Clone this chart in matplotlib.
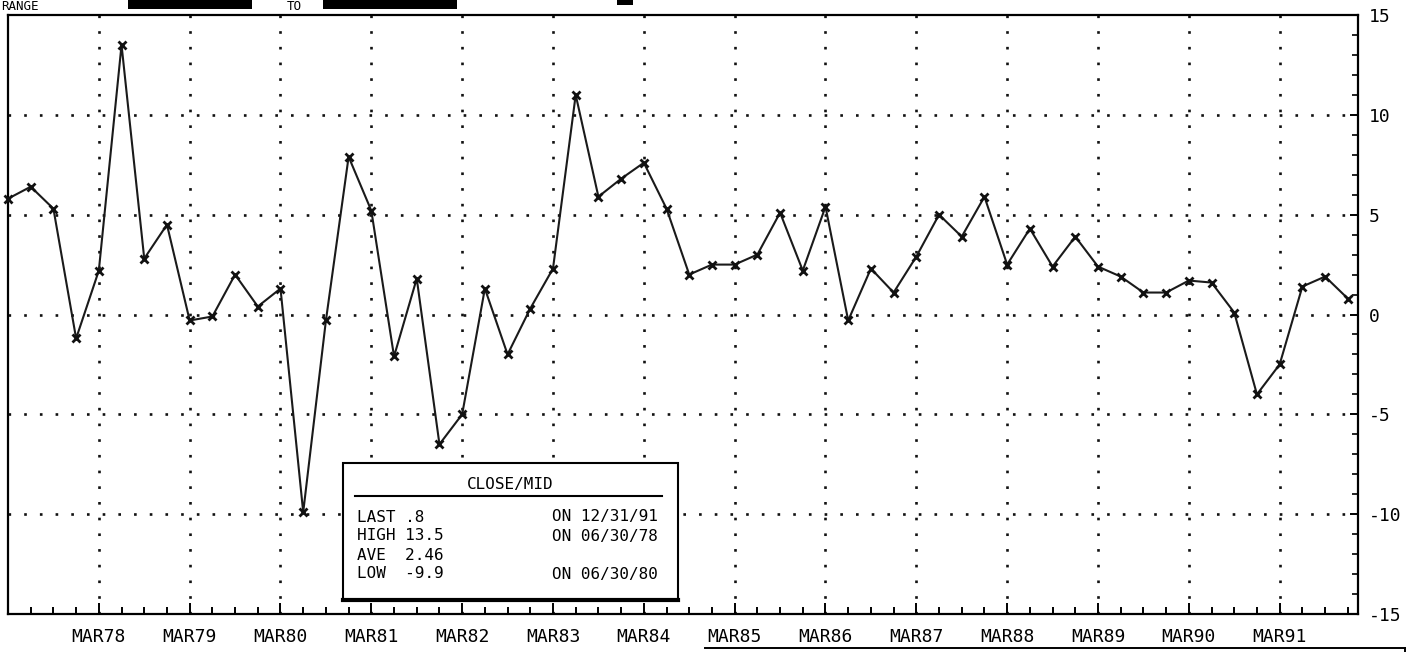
import matplotlib
matplotlib.use("Agg")
import matplotlib.pyplot as plt
from matplotlib.patches import Rectangle
from matplotlib.lines import Line2D

# ---------------- data ----------------
years = list(range(1977, 1992))
quarter_months = ["MAR", "JUN", "SEP", "DEC"]
quarters = [f"{m}{str(y)[2:]}" for y in years for m in quarter_months]

values = [5.8, 6.4, 5.3, -1.2,
          2.2, 13.5, 2.8, 4.5,
          -0.3, -0.1, 2.0, 0.4,
          1.3, -9.9, -0.3, 7.9,
          5.2, -2.1, 1.8, -6.5,
          -5.0, 1.3, -2.0, 0.3,
          2.3, 11.0, 5.9, 6.8,
          7.6, 5.3, 2.0, 2.5,
          2.5, 3.0, 5.1, 2.2,
          5.4, -0.3, 2.3, 1.1,
          2.9, 5.0, 3.9, 5.9,
          2.5, 4.3, 2.4, 3.9,
          2.4, 1.9, 1.1, 1.1,
          1.7, 1.6, 0.1, -4.0,
          -2.5, 1.4, 1.9, 0.8]

tick_labels = [q for q in quarters if q.startswith("MAR") and q != "MAR77"]
y_ticks = [-15, -10, -5, 0, 5, 10, 15]
y_grid = [-10, -5, 0, 5, 10]

legend_title = "CLOSE/MID"
legend_left = ["LAST .8", "HIGH 13.5", "AVE  2.46", "LOW  -9.9"]
legend_right = ["ON 12/31/91", "ON 06/30/78", "", "ON 06/30/80"]

# ---------------- figure ----------------
plt.rcParams["lines.scale_dashes"] = False
W, H = 1409, 652
fig = plt.figure(figsize=(W / 100, H / 100), dpi=100)
fig.patch.set_facecolor("white")

L, R, T, B = 8, 1358, 15, 614
ax = fig.add_axes([L / W, 1 - B / H, (R - L) / W, (B - T) / H])
ax.set_facecolor("white")

x = list(range(len(values)))
ax.set_xlim(0, 59.45)
ax.set_ylim(-15, 15)

mono = "DejaVu Sans Mono"
dot_style = (0, (1.9, 9.4))

# grid
tick_pos = [quarters.index(t) for t in tick_labels]
for gx in tick_pos:
    ax.axvline(gx, color="#111111", lw=1.9, ls=dot_style, dash_capstyle="butt", zorder=1)
for gy in y_grid:
    ax.axhline(gy, color="#111111", lw=1.9, ls=dot_style, dash_capstyle="butt", zorder=1)

# series
ax.plot(x, values, color="#1a1a1a", lw=1.5, zorder=3, clip_on=False)
ax.plot(x, values, ls="none", marker="x", ms=6, mew=2.0, color="#111111", zorder=4, clip_on=False)

# axes / ticks
for s in ax.spines.values():
    s.set_linewidth(1.6)
    s.set_color("black")

ax.set_xticks(tick_pos)
ax.set_xticklabels(tick_labels, fontfamily=mono, fontsize=13)
ax.set_xticks(x, minor=True)
ax.tick_params(axis="x", which="major", direction="in", length=8, width=1.4, pad=10, top=False)
ax.tick_params(axis="x", which="minor", direction="in", length=5, width=1.4, top=False)

ax.yaxis.tick_right()
ax.set_yticks(y_ticks)
ax.set_yticklabels([str(v) for v in y_ticks], fontfamily=mono, fontsize=13)
ax.set_yticks(range(-15, 16), minor=True)
ax.tick_params(axis="y", which="major", direction="in", length=6, width=1.4, pad=8, left=False)
ax.tick_params(axis="y", which="minor", direction="in", length=4, width=1.2, left=False)
for lab in ax.get_yticklabels():
    lab.set_horizontalalignment("left")

# ---------------- legend box ----------------
def afx(px):
    return (px - L) / (R - L)

def afy(py):
    return (B - py) / (B - T)

bx0, bx1, by0, by1 = 343, 678, 463, 600
box = Rectangle((afx(bx0), afy(by1)), afx(bx1) - afx(bx0), afy(by0) - afy(by1),
                transform=ax.transAxes, facecolor="white", edgecolor="black",
                lw=1.5, zorder=10, clip_on=False)
ax.add_patch(box)
ax.add_line(Line2D([afx(bx0), afx(bx1)], [afy(by1), afy(by1)], transform=ax.transAxes,
                   color="black", lw=3, zorder=11, clip_on=False))
ax.add_line(Line2D([afx(355), afx(662)], [afy(496), afy(496)], transform=ax.transAxes,
                   color="black", lw=1.5, zorder=11, clip_on=False))
ax.text(afx(510), afy(484), legend_title, transform=ax.transAxes, ha="center", va="center",
        fontfamily=mono, fontsize=11.5, zorder=12)
row_y = [517, 536, 555, 574]
for ry, lt, rt in zip(row_y, legend_left, legend_right):
    ax.text(afx(357), afy(ry), lt, transform=ax.transAxes, ha="left", va="center",
            fontfamily=mono, fontsize=11.5, zorder=12)
    if rt:
        ax.text(afx(552), afy(ry), rt, transform=ax.transAxes, ha="left", va="center",
                fontfamily=mono, fontsize=11.5, zorder=12)

# ---------------- header remnants ----------------
def fx(px):
    return px / W

def fy(py):
    return 1 - py / H

fig.text(fx(1), fy(6), "RANGE", ha="left", va="center", fontfamily=mono, fontsize=9)
fig.text(fx(287), fy(6), "TO", ha="left", va="center", fontfamily=mono, fontsize=9)
for (x0, x1) in [(128, 252), (323, 457)]:
    fig.add_artist(Rectangle((fx(x0), fy(9)), fx(x1) - fx(x0), fy(0) - fy(9),
                             transform=fig.transFigure, facecolor="black", edgecolor="none"))
fig.add_artist(Rectangle((fx(617), fy(5)), fx(633) - fx(617), fy(0) - fy(5),
                         transform=fig.transFigure, facecolor="black", edgecolor="none"))

# bottom-right box remnant
fig.add_artist(Line2D([fx(705), fx(1405)], [fy(648), fy(648)], transform=fig.transFigure,
                      color="black", lw=1.4))
fig.add_artist(Line2D([fx(1405), fx(1405)], [fy(648), fy(652)], transform=fig.transFigure,
                      color="black", lw=1.4))

fig.savefig("out.png", dpi=100, facecolor="white")
